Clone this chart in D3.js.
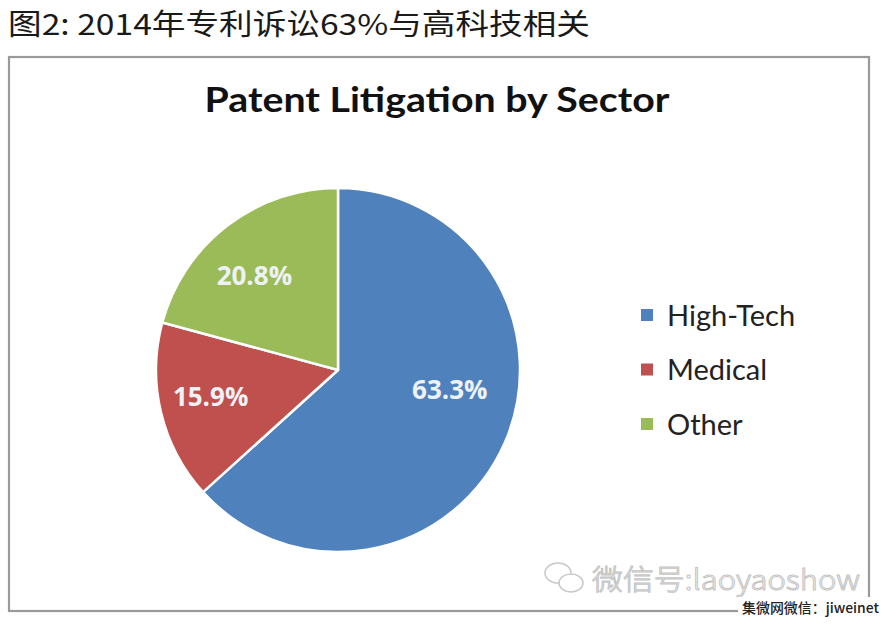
<!DOCTYPE html>
<html><head><meta charset="utf-8">
<script src="https://cdn.jsdelivr.net/npm/d3@7"></script>
<style>html,body{margin:0;padding:0;background:#fff;}svg{display:block;}</style>
</head><body>
<script>
const categories = ["High-Tech", "Medical", "Other"];
const values = [63.3, 15.9, 20.8];
const valueLabels = ["63.3%", "15.9%", "20.8%"];
const colors = ["#4F81BD", "#C0504D", "#9BBB59"];
const pageTitle = "图2: 2014年专利诉讼63%与高科技相关";
const chartTitle = "Patent Litigation by Sector";
const watermark = "微信号:laoyaoshow";
const source = "集微网微信：jiweinet";

const W = 888, H = 624;
const svg = d3.select("body").append("svg").attr("width", W).attr("height", H);

// page title
svg.append("text").attr("x", 8).attr("y", 35)
  .attr("font-family", "'Noto Sans CJK SC', 'Noto Sans', sans-serif")
  .attr("font-size", 29).attr("font-weight", 400).attr("fill", "#1a1a1a")
  .attr("textLength", 582).attr("lengthAdjust", "spacingAndGlyphs")
  .text(pageTitle);

// chart frame
svg.append("rect").attr("x", 9).attr("y", 57).attr("width", 860).attr("height", 554)
  .attr("fill", "#fff").attr("stroke", "#9a9a9a").attr("stroke-width", 2.2);

// chart title
svg.append("text").attr("x", 437).attr("y", 112).attr("text-anchor", "middle")
  .attr("font-family", "Lato, 'Open Sans', sans-serif").attr("font-weight", 700)
  .attr("font-size", 35).attr("fill", "#111")
  .attr("textLength", 465).attr("lengthAdjust", "spacingAndGlyphs")
  .text(chartTitle);

// pie
const cx = 338, cy = 370, R = 182;
const pie = d3.pie().sort(null).value(d => d)(values);
const arc = d3.arc().innerRadius(0).outerRadius(R);
const g = svg.append("g").attr("transform", `translate(${cx},${cy})`);
g.selectAll("path").data(pie).join("path")
  .attr("d", arc).attr("fill", (d, i) => colors[i])
  .attr("stroke", "#fff").attr("stroke-width", 2.5).attr("stroke-linejoin", "round");

// data labels (Excel-like placement)
const labelArc = d3.arc().innerRadius(R * 0.72).outerRadius(R * 0.72);
const labelNudge = [[-8, -34], [0, -5], [-4, 9]];
g.selectAll("text.lbl").data(pie).join("text").attr("class", "lbl")
  .attr("x", (d, i) => labelArc.centroid(d)[0] + labelNudge[i][0])
  .attr("y", (d, i) => labelArc.centroid(d)[1] + labelNudge[i][1])
  .attr("text-anchor", "middle").attr("dominant-baseline", "central")
  .attr("font-family", "'Open Sans', Lato, sans-serif").attr("font-weight", 700)
  .attr("font-size", 26).attr("fill", "#eef2f6")
  .text((d, i) => valueLabels[i]);

// legend
const legY = d3.scalePoint().domain(categories).range([314, 423]);
const leg = svg.append("g");
leg.selectAll("rect").data(categories).join("rect")
  .attr("x", 641).attr("y", d => legY(d) - 5).attr("width", 12).attr("height", 12)
  .attr("fill", (d, i) => colors[i]);
leg.selectAll("text").data(categories).join("text")
  .attr("x", 667).attr("y", d => legY(d)).attr("dominant-baseline", "central")
  .attr("font-family", "Lato, 'Open Sans', sans-serif").attr("font-size", 29)
  .attr("fill", "#222").text(d => d);

// watermark
const wm = svg.append("g").attr("fill", "none").attr("stroke", "#c8c8c8").attr("stroke-width", 1.5);
wm.append("ellipse").attr("cx", 558).attr("cy", 573).attr("rx", 13).attr("ry", 10);
wm.append("ellipse").attr("cx", 571).attr("cy", 583).attr("rx", 12).attr("ry", 9).attr("fill", "#fff");
svg.append("text").attr("x", 592).attr("y", 590)
  .attr("font-family", "'Noto Sans CJK SC', sans-serif").attr("font-weight", 300)
  .attr("font-size", 28).attr("fill", "#fff").attr("stroke", "#c4c4c4").attr("stroke-width", 1)
  .attr("textLength", 268).attr("lengthAdjust", "spacingAndGlyphs")
  .text(watermark);

// source tag
svg.append("rect").attr("x", 738).attr("y", 597).attr("width", 150).attr("height", 27).attr("fill", "#fff");
svg.append("text").attr("x", 742).attr("y", 613)
  .attr("font-family", "'Noto Sans CJK SC', sans-serif").attr("font-weight", 500)
  .attr("font-size", 14).attr("fill", "#222")
  .attr("textLength", 137).attr("lengthAdjust", "spacingAndGlyphs")
  .text(source);
</script>
</body></html>
